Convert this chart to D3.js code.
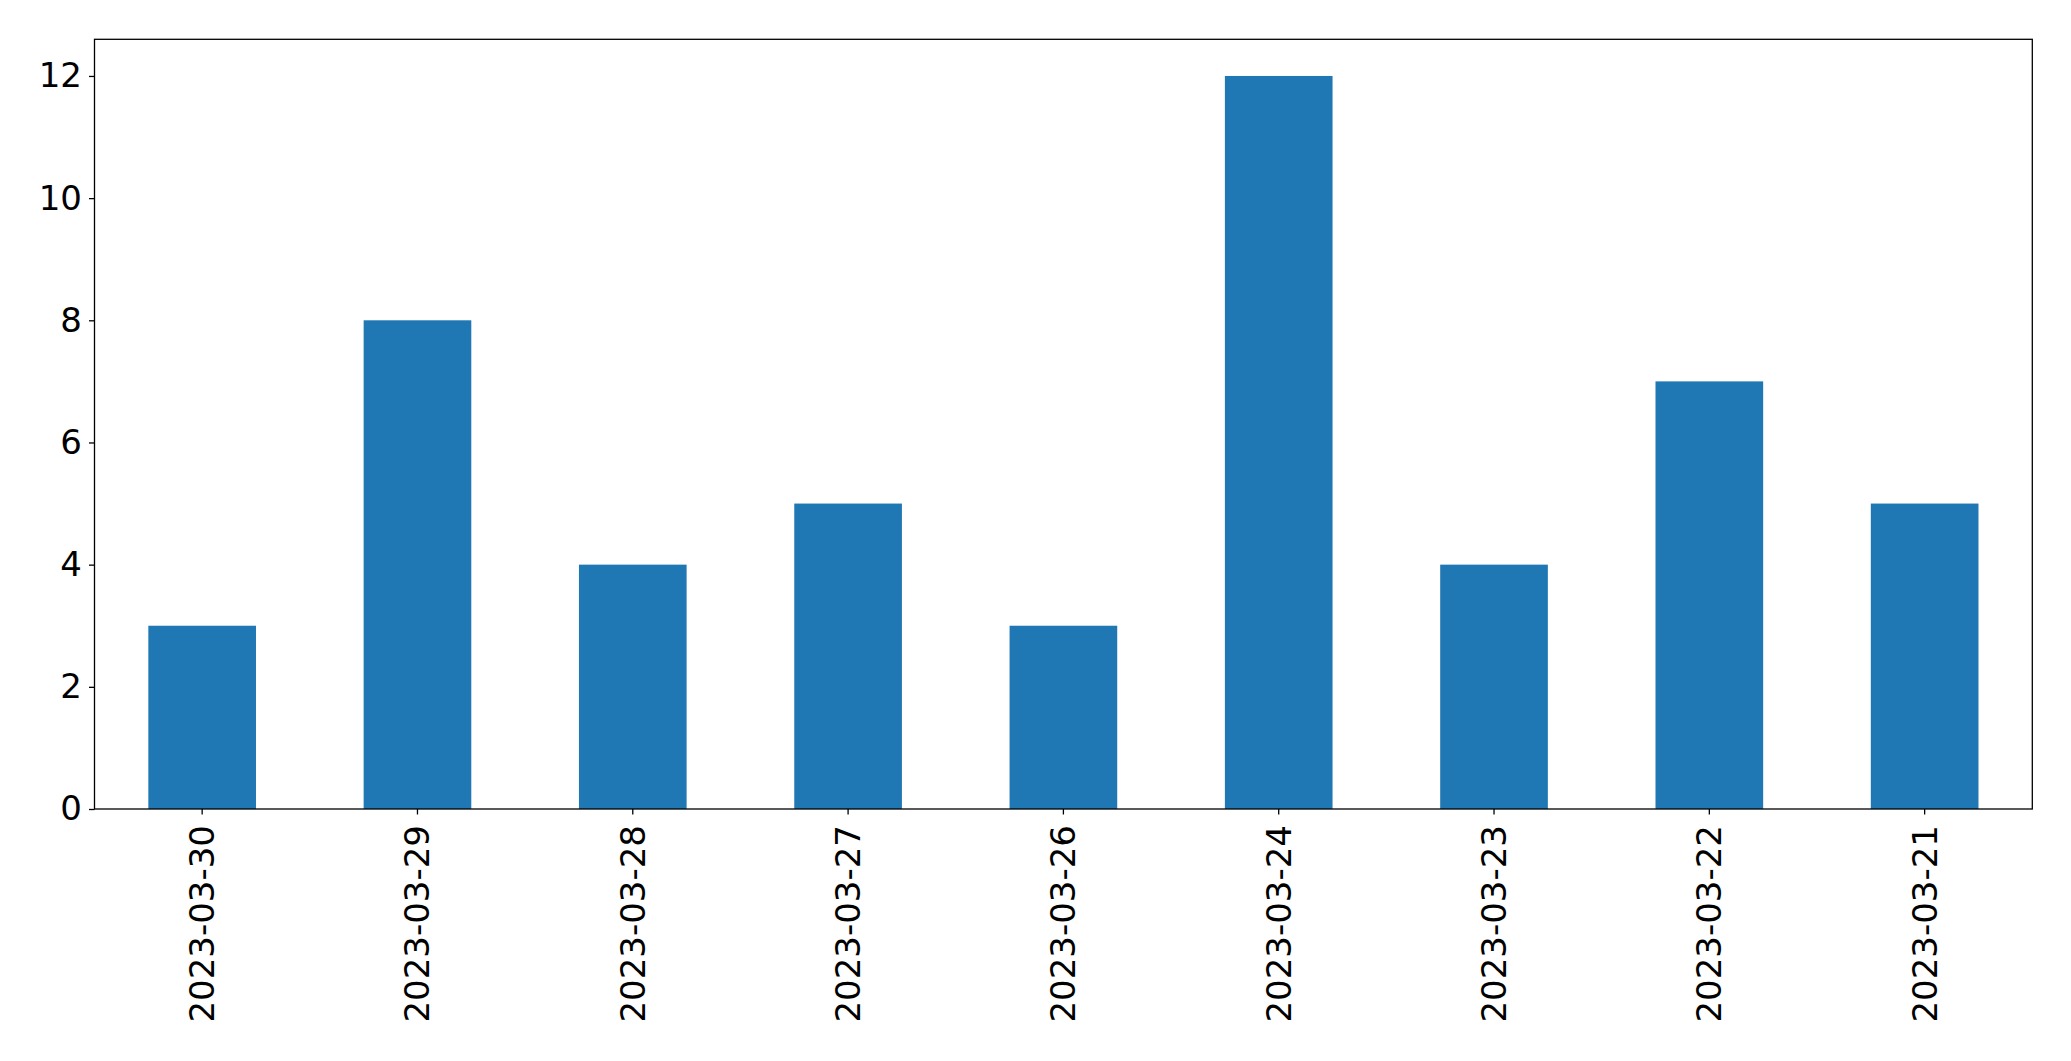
<!DOCTYPE html>
<html><head><meta charset="utf-8">
<script src="https://cdn.jsdelivr.net/npm/d3@7"></script>
<style>html,body{margin:0;padding:0;background:#fff;}svg{display:block;}</style>
</head><body>
<script>
const categories = ["2023-03-30","2023-03-29","2023-03-28","2023-03-27","2023-03-26","2023-03-24","2023-03-23","2023-03-22","2023-03-21"];
const values = [3,8,4,5,3,12,4,7,5];
const yTicks = [0,2,4,6,8,10,12];

const W = 2071, H = 1061;
const m = {left:94.5, right:W-2032.3, top:39.3, bottom:H-809};
const svg = d3.select("body").append("svg").attr("width",W).attr("height",H);
const x = d3.scaleBand().domain(categories).range([m.left, W-m.right]).paddingInner(0.5).paddingOuter(0.25);
const y = d3.scaleLinear().domain([0, 12.6]).range([H-m.bottom, m.top]);

svg.append("g").selectAll("rect").data(values).join("rect")
  .attr("x",(d,i)=>x(categories[i]))
  .attr("width",x.bandwidth())
  .attr("y",d=>y(d))
  .attr("height",d=>y(0)-y(d))
  .attr("fill","#1f77b4");

const font = "'DejaVu Sans', sans-serif";
const ya = svg.append("g").attr("transform",`translate(${m.left},0)`)
  .call(d3.axisLeft(y).tickValues(yTicks).tickSize(5.5).tickPadding(7).tickFormat(d3.format("d")));
ya.select(".domain").remove();
ya.selectAll("text").attr("font-family",font).attr("font-size",34).attr("fill","#000");
ya.selectAll("line").attr("stroke","#000").attr("stroke-width",1.3);

const xa = svg.append("g").attr("transform",`translate(0,${H-m.bottom})`)
  .call(d3.axisBottom(x).tickSize(5.5).tickPadding(0));
xa.select(".domain").remove();
xa.selectAll("line").attr("stroke","#000").attr("stroke-width",1.3);
xa.selectAll("text").attr("font-family",font).attr("font-size",34).attr("fill","#000")
  .attr("text-anchor","end").attr("dy","0.35em")
  .attr("transform","translate(0,16) rotate(-90)").attr("x",0).attr("y",0);

svg.append("rect").attr("x",m.left).attr("y",m.top)
  .attr("width",W-m.right-m.left).attr("height",H-m.bottom-m.top)
  .attr("fill","none").attr("stroke","#000").attr("stroke-width",1.3);
</script>
</body></html>
